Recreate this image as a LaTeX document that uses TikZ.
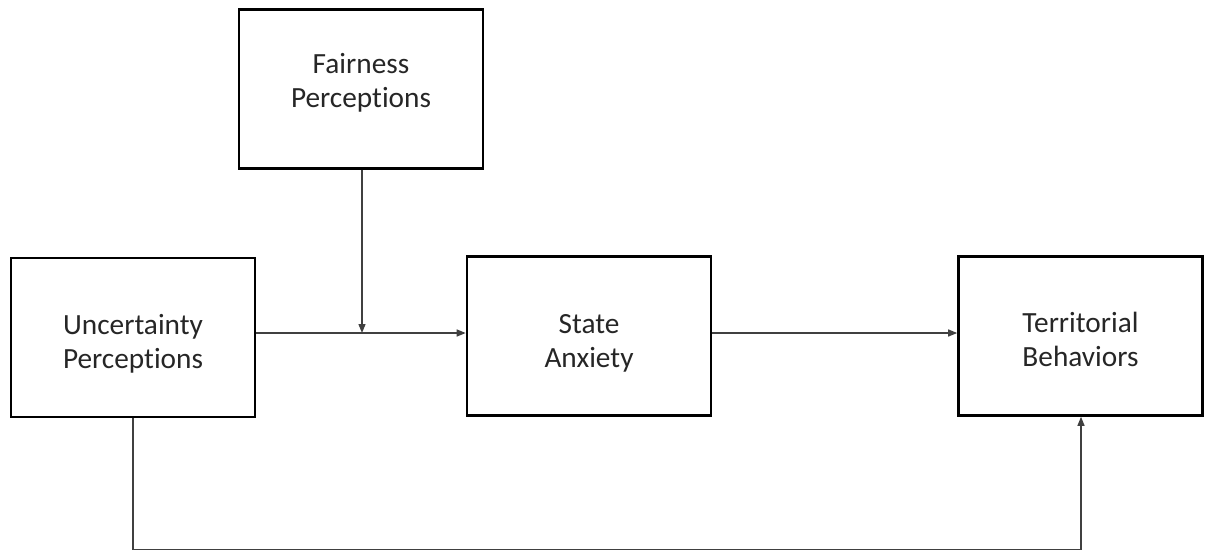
\documentclass[tikz,border=0pt]{standalone}
\usepackage{fontspec}
\setmainfont[Ligatures=NoCommon]{Carlito}
\usetikzlibrary{arrows.meta}
\begin{document}
\begin{tikzpicture}[x=1pt,y=-1pt,
  box/.style={draw=black,line width=2.6pt,minimum width=244pt,minimum height=159pt,inner sep=0pt},
  lbl/.style={inner sep=0pt,align=center,font=\fontsize{29.3}{34}\selectfont,text=black!85},
  conn/.style={draw=black!75,line width=1.3pt,-{Triangle[length=9pt,width=7pt]}}]
\useasboundingbox (0,0) rectangle (1208,552);
\node[box] (fair) at (361,89) {};
\node[box] (unc) at (133,337.5) {};
\node[box] (state) at (589,336) {};
\node[box] (terr) at (1080.5,336) {};
\node[lbl,yshift=6pt] (fairt) at (fair.center) {Fairness\\Perceptions};
\node[lbl,yshift=-6pt] (unct) at (unc.center) {Uncertainty\\Perceptions};
\node[lbl,yshift=-7pt] (statet) at (state.center) {State\\Anxiety};
\node[lbl,yshift=-3pt] (terrt) at (terr.center) {Territorial\\Behaviors};
\coordinate (mid) at (362,333);
\coordinate (bl) at (133,549.5);
\coordinate (br) at (1081,549.5);
\draw[conn] (unc.east |- mid) -- (state.west |- mid);
\draw[conn] (fair.south -| mid) -- (mid);
\draw[conn] (state.east |- mid) -- (terr.west |- mid);
\draw[conn] (unc.south) -- (bl) -- (br) -- (terr.south -| br);
\end{tikzpicture}
\end{document}
